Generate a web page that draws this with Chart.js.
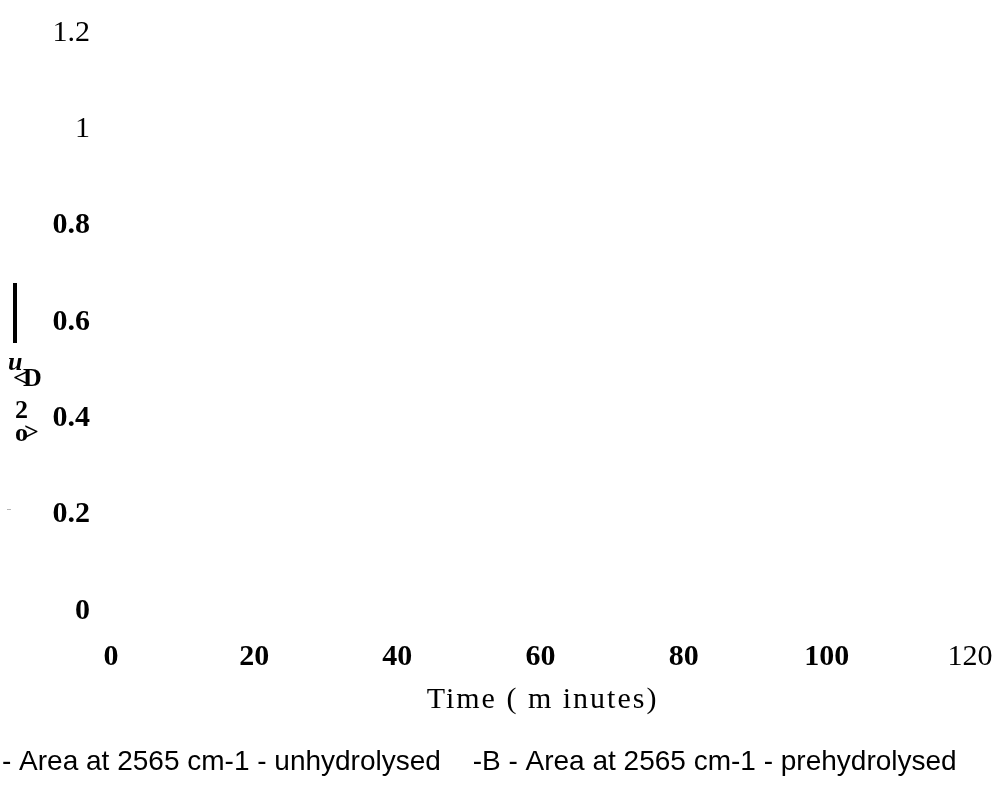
<!DOCTYPE html>
<html>
<head>
<meta charset="utf-8">
<script src="https://cdn.jsdelivr.net/npm/chart.js@4/dist/chart.umd.min.js"></script>
<style>
  html, body { margin: 0; padding: 0; background: #ffffff; }
  #wrap { width: 997px; height: 788px; position: relative; }
</style>
</head>
<body>
<div id="wrap"><canvas id="areaChart"></canvas></div>
<script>
// ============================
// Chart data (no marks are visible in the source picture)
// ============================
const seriesNames = [
    '- Area at 2565 cm-1 - unhydrolysed ',
    '-B - Area at 2565 cm-1 - prehydrolysed'
];
const unhydrolysed  = [];   // no points visible
const prehydrolysed = [];   // no points visible

const xTicks = [0, 20, 40, 60, 80, 100, 120];
const yTicks = [0, 0.2, 0.4, 0.6, 0.8, 1, 1.2];

const xTitle = 'Time ( m inutes)';
const SERIF = "'Liberation Serif', 'Times New Roman', serif";
const SANS  = "'Liberation Sans', Arial, sans-serif";

// ============================
// Extra text drawn on the canvas
// ============================
const extrasPlugin = {
    id: 'extras',
    afterLayout(chart) {
        // pull the legend flush to the left edge
        chart.legend.left -= 22;
    },
    afterDraw(chart) {
        const ctx = chart.ctx;
        const area = chart.chartArea;
        ctx.save();
        ctx.fillStyle = '#000';

        // x axis title, letter spaced
        ctx.font = '30px ' + SERIF;
        ctx.letterSpacing = '2px';
        ctx.textAlign = 'center';
        ctx.textBaseline = 'middle';
        ctx.fillText(xTitle, (area.left + area.right) / 2 + 2, 700);
        ctx.letterSpacing = '0px';

        // broken y axis label fragments
        ctx.fillRect(13, 283, 4, 60);
        ctx.textAlign = 'left';
        ctx.textBaseline = 'alphabetic';
        ctx.font = 'bold italic 26px ' + SERIF;
        ctx.fillText('u', 8, 370);
        ctx.font = 'bold 26px ' + SERIF;
        ctx.fillText('<', 13, 386);
        ctx.fillText('D', 23, 386);
        ctx.fillText('2', 15, 418);
        ctx.fillText('o', 15, 441);
        ctx.fillText('>', 24, 440);
        ctx.font = '8px ' + SERIF;
        ctx.fillText('..', 7, 510);
        ctx.restore();
    }
};

// ============================
// Chart
// ============================
const ctx = document.getElementById('areaChart').getContext('2d');

new Chart(ctx, {
    type: 'line',
    data: {
        datasets: [
            {
                label: seriesNames[0],
                data: unhydrolysed,
                borderColor: '#000',
                backgroundColor: '#000',
                borderWidth: 0
            },
            {
                label: seriesNames[1],
                data: prehydrolysed,
                borderColor: '#000',
                backgroundColor: '#000',
                borderWidth: 0
            }
        ]
    },
    options: {
        responsive: true,
        maintainAspectRatio: false,
        animation: false,
        layout: { padding: { left: 0, right: 2, top: 33, bottom: 2 } },
        scales: {
            x: {
                type: 'linear',
                min: xTicks[0],
                max: xTicks[xTicks.length - 1],
                afterBuildTicks: (scale) => { scale.ticks = xTicks.map(v => ({ value: v })); },
                afterFit: (scale) => {
                    scale.height = 127;
                    scale.paddingLeft = 0;
                    scale.paddingRight = 27;
                },
                grid: { display: false, drawTicks: false },
                border: { display: false },
                ticks: {
                    color: '#000',
                    padding: 28,
                    maxRotation: 0,
                    callback: (v) => String(v),
                    font: (c) => ({
                        family: SERIF,
                        size: 30,
                        weight: c.tick && c.tick.value === 120 ? 'normal' : 'bold'
                    })
                }
            },
            y: {
                min: yTicks[0],
                max: yTicks[yTicks.length - 1],
                afterBuildTicks: (scale) => { scale.ticks = yTicks.map(v => ({ value: v })); },
                afterFit: (scale) => {
                    scale.width = 111;
                    scale.paddingTop = 0;
                    scale.paddingBottom = 0;
                },
                grid: { display: false, drawTicks: false },
                border: { display: false },
                ticks: {
                    color: '#000',
                    padding: 21,
                    callback: (v) => String(v),
                    font: (c) => ({
                        family: SERIF,
                        size: 30,
                        weight: c.tick && c.tick.value >= 1 ? 'normal' : 'bold'
                    })
                }
            }
        },
        plugins: {
            legend: {
                position: 'bottom',
                align: 'start',
                labels: {
                    boxWidth: 0,
                    boxHeight: 0,
                    padding: 10,
                    color: '#000',
                    font: { family: SANS, size: 28 }
                }
            },
            tooltip: { enabled: false }
        }
    },
    plugins: [extrasPlugin]
});
</script>
</body>
</html>
